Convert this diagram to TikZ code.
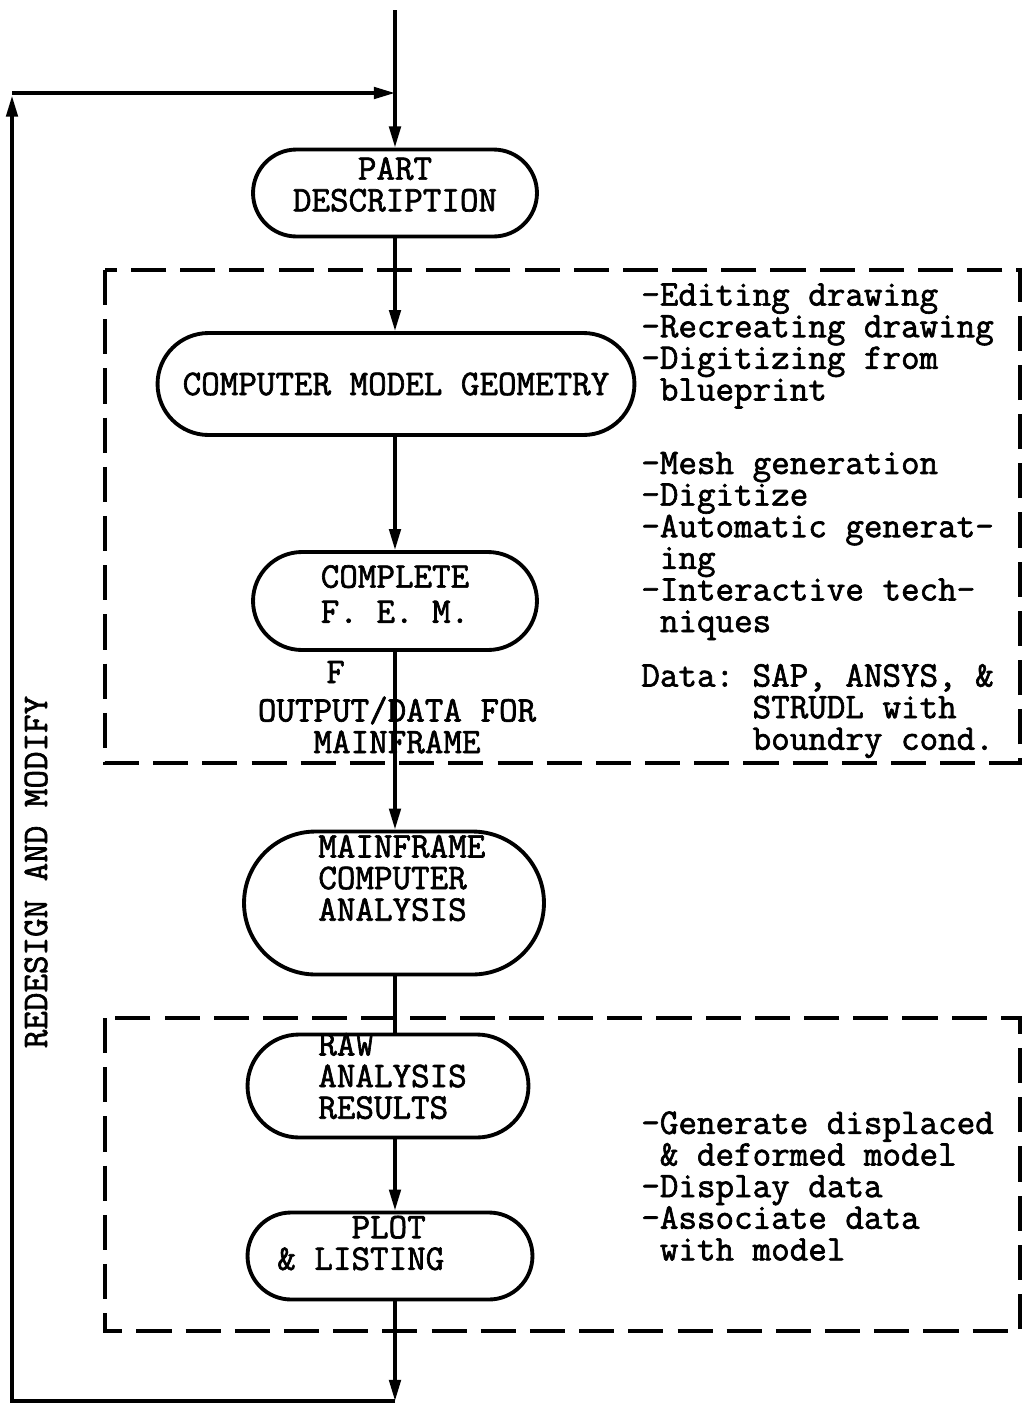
\documentclass[tikz,border=0pt]{standalone}
\usepackage{fontspec}
\newfontfamily\typer{Latin Modern Mono}[FakeBold=1.8]
\usetikzlibrary{arrows.meta, positioning, shapes.misc}

\begin{document}
\begin{tikzpicture}[x=0.02cm, y=-0.02cm,
    pill/.style={rounded rectangle, draw=black, line width=2.2pt,
    inner sep=0pt, align=center, font=\typer\fontsize{20.5}{18}\selectfont},
    txt/.style={inner sep=0pt, align=left, anchor=west,
    font=\typer\fontsize{20.5}{18}\selectfont},
    flow/.style={-{Triangle[length=12pt, width=6.5pt]}, line width=2pt},
    wire/.style={line width=2pt},
    group/.style={line width=2pt, dash pattern=on 20pt off 8pt} ]

    \useasboundingbox (0,0) rectangle (1024,1404);

    % Dashed groups
    \draw[group] (105,270) rectangle (1020,763);
    \draw[group] (105,1018) rectangle (1020,1331);

    % Nodes for the main flow
    \coordinate (spine) at (395,0);
    \node[pill, minimum width=5.68cm, minimum height=1.74cm] (part) at (395,193)
	    {PART\\DESCRIPTION\\[-8pt]};
    \node[pill, minimum width=9.54cm, minimum height=2.04cm] (geom) at (396,384)
	    {COMPUTER MODEL GEOMETRY};
    \node[pill, minimum width=5.68cm, minimum height=1.96cm] (fem) at (395,601)
	    {COMPLETE\\[2pt]F. E. M.\\[-10pt]};
    \node[txt] (fout) at (326,672) {F};
    \node[txt, anchor=center, align=center] (outdata) at (397,725)
	    {OUTPUT/DATA FOR\\MAINFRAME};
    \node[pill, minimum width=6.0cm, minimum height=2.86cm] (main) at (394,903) {};
    \node[txt] (maintxt) at (318,878) {MAINFRAME\\COMPUTER\\ANALYSIS};
    \node[pill, minimum width=5.62cm, minimum height=2.06cm] (raw) at (388,1086) {};
    \node[txt] (rawtxt) at (318,1076) {RAW\\ANALYSIS\\RESULTS};
    \node[pill, minimum width=5.7cm, minimum height=1.74cm] (plot) at (390,1256) {};
    \node[txt] (plottxt) at (277,1243) {~~~~PLOT\\\& LISTING};

    % Notes on the right
    \node[txt] (geomnote) at (641,346)
	    {-Editing drawing\\-Recreating drawing\\-Digitizing from\\~blueprint};
    \node[txt] (femnote) at (641,546)
	    {-Mesh generation\\-Digitize\\-Automatic generat-\\~ing\\-Interactive tech-\\~niques};
    \node[txt] (datanote) at (641,711)
	    {Data:~SAP, ANSYS, \&\\\phantom{Data:~}STRUDL with\\\phantom{Data:~}boundry cond.};
    \node[txt] (plotnote) at (641,1186)
	    {-Generate displaced\\~\& deformed model\\-Display data\\-Associate data\\~with model};
    \node[txt, anchor=center, rotate=90] (redesign) at (36,872) {REDESIGN AND MODIFY};

    % Arrows along the main flow
    \coordinate (top) at (395,10);
    \coordinate (join) at (395,93);
    \coordinate (foot) at (395,1401);
    \coordinate (lowleft) at (12,1401);
    \coordinate (highleft) at (12,93);
    \draw[flow] (top) -- (part.north -| spine);
    \draw[flow] (part.south -| spine) -- (geom.north -| spine);
    \draw[flow] (geom.south -| spine) -- (fem.north -| spine);
    \draw[flow] (fem.south -| spine) -- (main.north -| spine);
    \draw[wire] (main.south -| spine) -- (raw.north -| spine);
    \draw[flow] (raw.south -| spine) -- (plot.north -| spine);
    \draw[flow] (plot.south -| spine) -- (foot);

    % Redesign loop
    \draw[flow, shorten >=1.5pt] (foot) -- (lowleft) -- (highleft);
    \draw[flow] (highleft) -- (join);

  \end{tikzpicture}
\end{document}
